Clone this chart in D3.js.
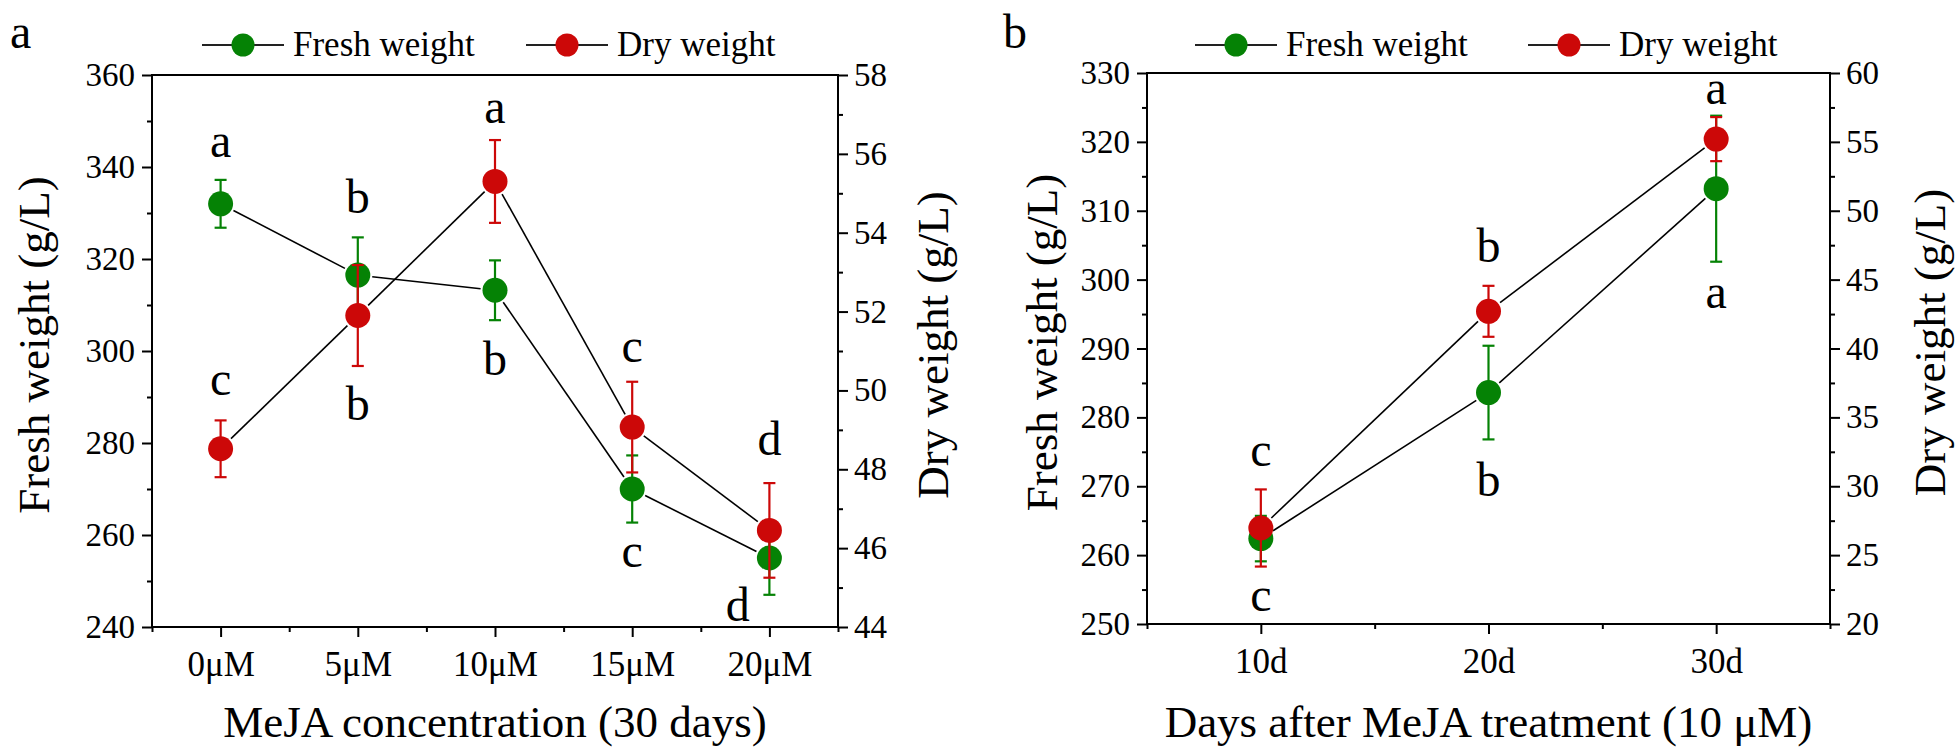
<!DOCTYPE html>
<html>
<head>
<meta charset="utf-8">
<script src="https://cdn.jsdelivr.net/npm/d3@7"></script>
<style>
  html, body { margin: 0; padding: 0; background: #fff; }
  svg text { font-family: "Liberation Serif", "Times New Roman", serif; fill: #000; }
</style>
</head>
<body>
<svg id="chart" width="1960" height="755" font-family="Liberation Serif, Times New Roman, serif"></svg>
<script>
// ---------- DATA ----------
const concCats = ["0μM", "5μM", "10μM", "15μM", "20μM"];
const freshA = [332, 316.5, 313.2, 270, 255];
const freshAErr = [5.2, 8.2, 6.5, 7.3, 8];
const dryA = [48.52, 51.9, 55.3, 49.07, 46.45];
const dryAErr = [0.72, 1.28, 1.05, 1.15, 1.2];

const dayCats = ["10d", "20d", "30d"];
const freshB = [262.4, 283.6, 313.2];
const freshBErr = [3.3, 6.8, 10.6];
const dryB = [26.97, 42.7, 55.2];
const dryBErr = [2.8, 1.85, 1.6];

const leftTicksA = [240, 260, 280, 300, 320, 340, 360];
const rightTicksA = [44, 46, 48, 50, 52, 54, 56, 58];
const leftTicksB = [250, 260, 270, 280, 290, 300, 310, 320, 330];
const rightTicksB = [20, 25, 30, 35, 40, 45, 50, 55, 60];

// significance letters (category index, letter, position in left-axis units)
const lettersAText = ["a", "c", "b", "b", "a", "b", "c", "c", "d", "d"];
const lettersACat  = [0, 0, 1, 1, 2, 2, 3, 3, 4, 3.77];
const lettersAVal  = [342.2, 290.4, 330, 285, 349.6, 294.8, 297.6, 253, 277.4, 241.3];
const lettersBText = ["c", "c", "b", "b", "a", "a"];
const lettersBCat  = [0, 0, 1, 1, 2, 2];
const lettersBVal  = [273, 251.9, 302.5, 268.6, 325.5, 295.9];

const seriesNames = ["Fresh weight", "Dry weight"];
const GREEN = "#058205", RED = "#cc0808";
const FONT = "Liberation Serif, Times New Roman, serif";

const svg = d3.select("#chart");

function panel(cfg) {
  const g = svg.append("g").attr("font-family", FONT);
  const x = d3.scaleLinear().domain([-0.5, cfg.cats.length - 0.5]).range([cfg.left, cfg.right]);
  const yL = d3.scaleLinear().domain(cfg.leftDomain).range([cfg.bottom, cfg.top]);
  const yR = d3.scaleLinear().domain(cfg.rightDomain).range([cfg.bottom, cfg.top]);

  const minorX = d3.range(-0.5, cfg.cats.length, 0.5).filter(v => Math.abs(v - Math.round(v)) > 0.1);
  const axStyle = sel => {
    sel.attr("font-family", FONT);
    sel.select(".domain").remove();
    sel.selectAll(".tick line").attr("stroke", "#000").attr("stroke-width", 2);
  };
  g.append("g").attr("transform", `translate(0,${cfg.bottom})`)
    .call(d3.axisBottom(x).tickValues(minorX).tickSize(5).tickFormat(""))
    .call(axStyle);
  g.append("g").attr("transform", `translate(0,${cfg.bottom})`)
    .call(d3.axisBottom(x).tickValues(d3.range(cfg.cats.length)).tickSize(10).tickPadding(14)
      .tickFormat(i => cfg.cats[i]))
    .call(axStyle)
    .selectAll("text").attr("font-size", 35);

  const minorL = [];
  for (let i = 0; i < cfg.leftTicks.length - 1; i++) minorL.push((cfg.leftTicks[i] + cfg.leftTicks[i + 1]) / 2);
  const minorR = [];
  for (let i = 0; i < cfg.rightTicks.length - 1; i++) minorR.push((cfg.rightTicks[i] + cfg.rightTicks[i + 1]) / 2);

  g.append("g").attr("transform", `translate(${cfg.left},0)`)
    .call(d3.axisLeft(yL).tickValues(minorL).tickSize(5).tickFormat(""))
    .call(axStyle);
  g.append("g").attr("transform", `translate(${cfg.left},0)`)
    .call(d3.axisLeft(yL).tickValues(cfg.leftTicks).tickSize(10).tickPadding(7).tickFormat(d3.format("d")))
    .call(axStyle)
    .selectAll("text").attr("font-size", 33);
  g.append("g").attr("transform", `translate(${cfg.right},0)`)
    .call(d3.axisRight(yR).tickValues(minorR).tickSize(5).tickFormat(""))
    .call(axStyle);
  g.append("g").attr("transform", `translate(${cfg.right},0)`)
    .call(d3.axisRight(yR).tickValues(cfg.rightTicks).tickSize(10).tickPadding(6).tickFormat(d3.format("d")))
    .call(axStyle)
    .selectAll("text").attr("font-size", 33);

  // frame
  g.append("rect").attr("x", cfg.left).attr("y", cfg.top)
    .attr("width", cfg.right - cfg.left).attr("height", cfg.bottom - cfg.top)
    .attr("fill", "none").attr("stroke", "#000").attr("stroke-width", 2);

  const R = 12.5;
  function lines(vals, ys) {
    for (let i = 0; i < vals.length - 1; i++) {
      const x1 = x(i), y1 = ys(vals[i]), x2 = x(i + 1), y2 = ys(vals[i + 1]);
      const dx = x2 - x1, dy = y2 - y1, L = Math.hypot(dx, dy);
      const ux = dx / L, uy = dy / L, gap = R + 2;
      g.append("line")
        .attr("x1", x1 + ux * gap).attr("y1", y1 + uy * gap)
        .attr("x2", x2 - ux * gap).attr("y2", y2 - uy * gap)
        .attr("stroke", "#000").attr("stroke-width", 1.6);
    }
  }
  lines(cfg.fresh, yL);
  lines(cfg.dry, yR);

  function series(vals, errs, ys, color) {
    const eg = g.append("g");
    vals.forEach((v, i) => {
      const cx = x(i), yt = ys(v + errs[i]), yb = ys(v - errs[i]);
      eg.append("line").attr("x1", cx).attr("x2", cx).attr("y1", yt).attr("y2", yb)
        .attr("stroke", color).attr("stroke-width", 2.2);
      [yt, yb].forEach(yy => eg.append("line").attr("x1", cx - 6).attr("x2", cx + 6)
        .attr("y1", yy).attr("y2", yy).attr("stroke", color).attr("stroke-width", 2.2));
    });
    g.append("g").selectAll("circle").data(vals).join("circle")
      .attr("cx", (d, i) => x(i)).attr("cy", d => ys(d)).attr("r", R)
      .attr("fill", color);
  }
  series(cfg.fresh, cfg.freshErr, yL, GREEN);
  series(cfg.dry, cfg.dryErr, yR, RED);

  cfg.lText.forEach((t, i) => {
    g.append("text").attr("x", x(cfg.lCat[i])).attr("y", yL(cfg.lVal[i]))
      .attr("text-anchor", "middle").attr("font-size", 48).text(t);
  });

  g.append("text").attr("x", (cfg.left + cfg.right) / 2).attr("y", 737)
    .attr("text-anchor", "middle").attr("font-size", 45).text(cfg.xTitle);
  g.append("text").attr("transform", `translate(${cfg.yTitleLX},${(cfg.top + cfg.bottom) / 2 - 6}) rotate(-90)`)
    .attr("text-anchor", "middle").attr("dominant-baseline", "central").attr("font-size", 45).text("Fresh weight (g/L)");
  g.append("text").attr("transform", `translate(${cfg.yTitleRX},${(cfg.top + cfg.bottom) / 2 - 6}) rotate(-90)`)
    .attr("text-anchor", "middle").attr("dominant-baseline", "central").attr("font-size", 45).text("Dry weight (g/L)");

  g.append("text").attr("x", cfg.labelX).attr("y", 48).attr("font-size", 48).text(cfg.label);

  [GREEN, RED].forEach((c, k) => {
    const sx = cfg.legendX[k], ly = 45;
    g.append("line").attr("x1", sx).attr("x2", sx + 82).attr("y1", ly).attr("y2", ly)
      .attr("stroke", "#222").attr("stroke-width", 2);
    g.append("circle").attr("cx", sx + 41).attr("cy", ly).attr("r", 11.5).attr("fill", c);
    g.append("text").attr("x", sx + 91).attr("y", 56).attr("font-size", 35).text(seriesNames[k]);
  });
}

panel({
  cats: concCats, left: 152, right: 838, top: 75, bottom: 627,
  leftDomain: [240, 360], rightDomain: [44, 58],
  leftTicks: leftTicksA, rightTicks: rightTicksA,
  fresh: freshA, freshErr: freshAErr, dry: dryA, dryErr: dryAErr,
  lText: lettersAText, lCat: lettersACat, lVal: lettersAVal,
  xTitle: "MeJA concentration (30 days)", yTitleLX: 34, yTitleRX: 933,
  label: "a", labelX: 10, legendX: [202, 526]
});

panel({
  cats: dayCats, left: 1147, right: 1830, top: 73, bottom: 624,
  leftDomain: [250, 330], rightDomain: [20, 60],
  leftTicks: leftTicksB, rightTicks: rightTicksB,
  fresh: freshB, freshErr: freshBErr, dry: dryB, dryErr: dryBErr,
  lText: lettersBText, lCat: lettersBCat, lVal: lettersBVal,
  xTitle: "Days after MeJA treatment (10 μM)", yTitleLX: 1042, yTitleRX: 1930,
  label: "b", labelX: 1003, legendX: [1195, 1528]
});
</script>
</body>
</html>
